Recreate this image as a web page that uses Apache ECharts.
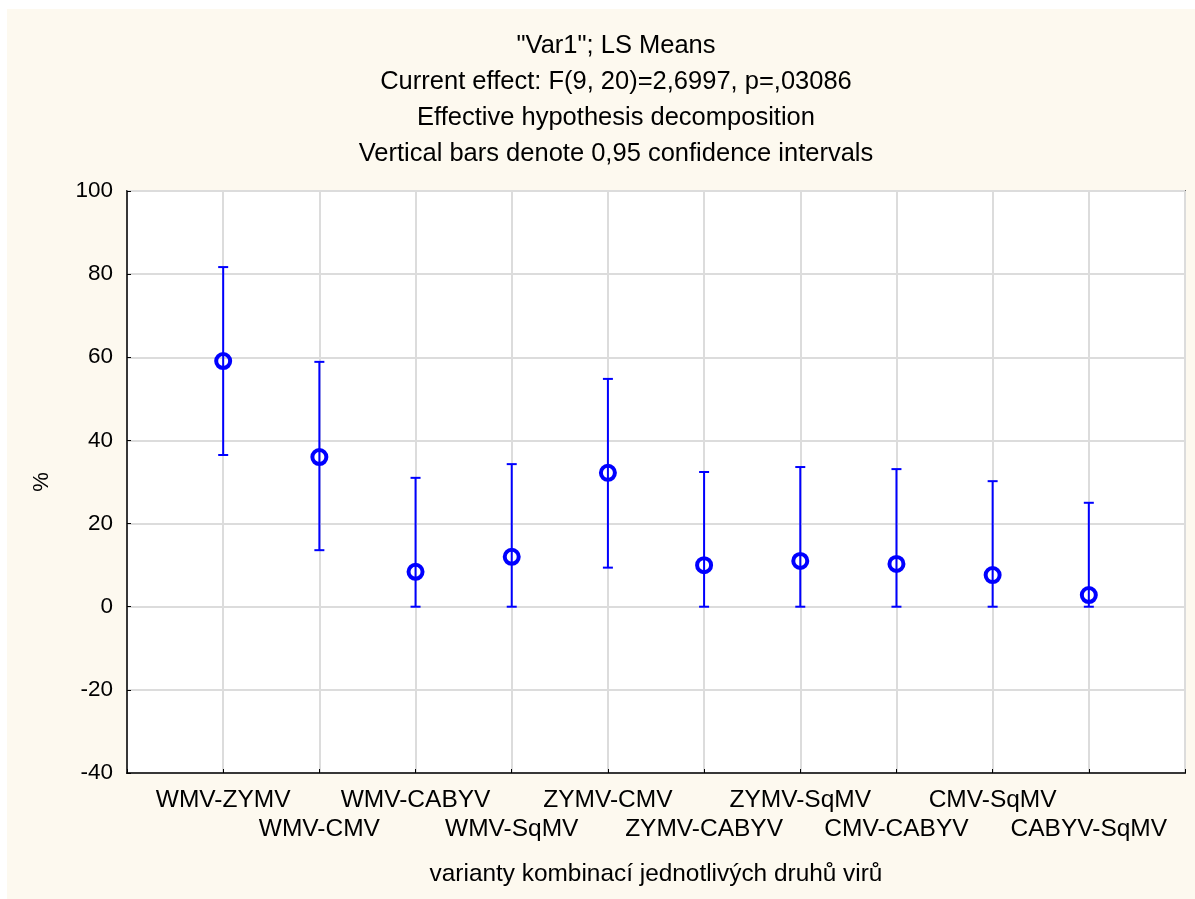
<!DOCTYPE html>
<html>
<head>
<meta charset="utf-8">
<script src="https://cdn.jsdelivr.net/npm/echarts@6/dist/echarts.min.js"></script>
<style>
html,body{margin:0;padding:0;background:#ffffff;}
#chart{position:absolute;left:7px;top:9px;width:1188px;height:890px;}
</style>
</head>
<body>
<div id="chart"></div>
<script>
const categories = ["WMV-ZYMV","WMV-CMV","WMV-CABYV","WMV-SqMV","ZYMV-CMV","ZYMV-CABYV","ZYMV-SqMV","CMV-CABYV","CMV-SqMV","CABYV-SqMV"];
const means = [59.1, 36.0, 8.4, 12.0, 32.2, 10.0, 11.0, 10.3, 7.6, 2.8];
const lower = [36.5, 13.6, 0, 0, 9.4, 0, 0, 0, 0, 0];
const upper = [81.7, 58.9, 31.0, 34.3, 54.8, 32.4, 33.6, 33.1, 30.2, 25.0];
const yTicks = [-40, -20, 0, 20, 40, 60, 80, 100];
const titleLines = ['"Var1"; LS Means', 'Current effect: F(9, 20)=2,6997, p=,03086', 'Effective hypothesis decomposition', 'Vertical bars denote 0,95 confidence intervals'];
const xName = 'varianty kombinací jednotlivých druhů virů';
const yName = '%';

const blue = '#0000ff';
const font = 'Liberation Sans, Arial, sans-serif';

const errData = categories.map((c, i) => [i + 1, lower[i], upper[i]]);
const meanData = categories.map((c, i) => [i + 1, means[i]]);

const chart = echarts.init(document.getElementById('chart'));
chart.setOption({
  backgroundColor: '#fdf9ef',
  animation: false,
  title: {
    text: titleLines.join('\n'),
    left: 604, top: 14, textAlign: 'center',
    textStyle: {fontFamily: font, fontSize: 25.5, fontWeight: 'normal', color: '#000', lineHeight: 36}
  },
  grid: {left: 120, top: 182, right: 10, bottom: 126, show: true, backgroundColor: '#ffffff', borderColor: '#000', borderWidth: 1.5},
  xAxis: {
    type: 'value', min: 0, max: 11, interval: 1,
    name: xName, nameLocation: 'middle', nameGap: 89,
    nameTextStyle: {fontFamily: font, fontSize: 24.4, color: '#000'},
    axisLine: {show: true, onZero: false, lineStyle: {color: '#000', width: 1.5}},
    axisTick: {show: true, inside: true, length: 4, lineStyle: {color: '#000'}},
    splitLine: {show: true, lineStyle: {color: '#dcdcdc', width: 2}},
    axisLabel: {
      margin: 13, fontFamily: font, fontSize: 24.5, color: '#000', lineHeight: 29,
      showMinLabel: true, showMaxLabel: true,
      formatter: function (v) {
        const i = Math.round(v) - 1;
        if (i < 0 || i >= categories.length) return '';
        return (i % 2 === 0) ? categories[i] + '\n ' : ' \n' + categories[i];
      }
    }
  },
  yAxis: {
    type: 'value', min: yTicks[0], max: yTicks[yTicks.length - 1], interval: 20,
    name: yName, nameLocation: 'middle', nameGap: 74, nameRotate: 90,
    nameTextStyle: {fontFamily: font, fontSize: 22, color: '#000'},
    axisLine: {show: true, lineStyle: {color: '#000', width: 1.5}},
    axisTick: {show: true, inside: true, length: 4, lineStyle: {color: '#000'}},
    splitLine: {show: true, lineStyle: {color: '#dcdcdc', width: 2}},
    axisLabel: {margin: 14, fontFamily: font, fontSize: 22.5, color: '#000'}
  },
  series: [
    {
      type: 'custom',
      data: errData,
      z: 3,
      renderItem: function (params, api) {
        const x = api.value(0);
        const lo = api.coord([x, api.value(1)]);
        const hi = api.coord([x, api.value(2)]);
        const hw = 5;
        const style = {stroke: blue, lineWidth: 2, fill: null};
        return {
          type: 'group',
          children: [
            {type: 'line', shape: {x1: lo[0], y1: lo[1], x2: hi[0], y2: hi[1]}, style: style},
            {type: 'line', shape: {x1: lo[0] - hw, y1: lo[1], x2: lo[0] + hw, y2: lo[1]}, style: style},
            {type: 'line', shape: {x1: hi[0] - hw, y1: hi[1], x2: hi[0] + hw, y2: hi[1]}, style: style}
          ]
        };
      }
    },
    {
      type: 'scatter',
      data: meanData,
      z: 4,
      symbol: 'circle',
      symbolSize: 14,
      itemStyle: {color: 'rgba(0,0,0,0)', borderColor: blue, borderWidth: 4, opacity: 1}
    }
  ]
});
</script>
</body>
</html>
